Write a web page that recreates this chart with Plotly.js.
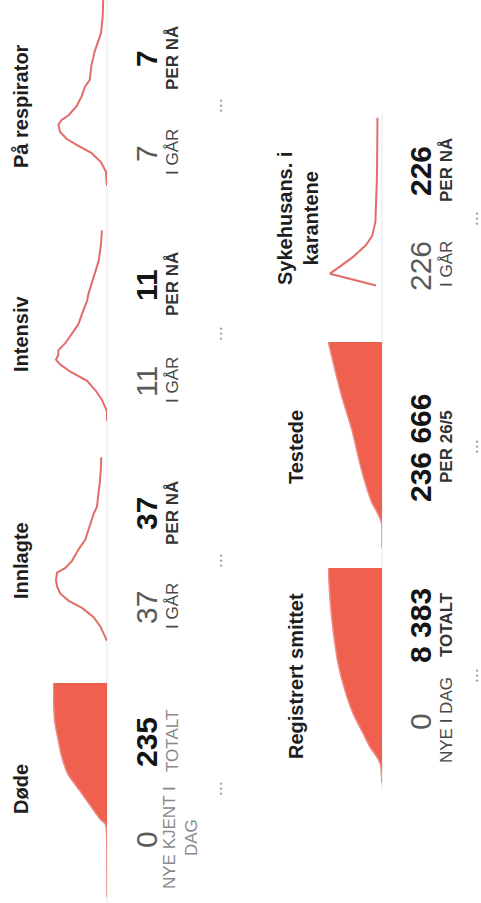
<!DOCTYPE html>
<html><head><meta charset="utf-8">
<script src="https://cdn.plot.ly/plotly-3.0.1.min.js"></script>
<style>
html,body{margin:0;padding:0;background:#fff;overflow:hidden;width:481px;height:903px;}
#wrap{position:absolute;left:0;top:0;width:903px;height:481px;transform-origin:0 0;transform:translate(0px,903px) rotate(-90deg);}
#chart{width:903px;height:481px;}
</style></head><body>
<div id="wrap"><div id="chart"></div></div>
<script>
// ---------- data ----------
const dodeDates = ['2020-02-26','2020-03-24','2020-03-28','2020-03-30','2020-04-03','2020-04-07','2020-04-11','2020-04-18','2020-04-26','2020-05-03','2020-05-11','2020-05-27'];
const dodeValues = [0, 2, 7, 29, 59, 88, 117, 169, 198, 213, 228, 235];

const innlagteDates = ['2020-03-09','2020-03-15','2020-03-19','2020-03-23','2020-03-26','2020-03-29','2020-04-01','2020-04-04','2020-04-07','2020-04-09','2020-04-12','2020-04-17','2020-04-21','2020-04-25','2020-04-28','2020-05-02','2020-05-05','2020-05-11','2020-05-16','2020-05-22','2020-05-26'];
const innlagteValues = [0, 42, 85, 159, 244, 297, 318, 325, 318, 265, 223, 180, 138, 117, 106, 85, 64, 53, 45, 38, 37];

const intensivDates = ['2020-03-06','2020-03-10','2020-03-15','2020-03-19','2020-03-23','2020-03-25','2020-03-27','2020-03-30','2020-04-01','2020-04-03','2020-04-05','2020-04-08','2020-04-12','2020-04-16','2020-04-22','2020-04-26','2020-04-29','2020-05-06','2020-05-13','2020-05-20','2020-05-26'];
const intensivValues = [0, 0, 11, 25, 43, 61, 80, 101, 110, 105, 105, 90, 76, 62, 51, 43, 40, 29, 18, 13, 11];

const respiratorDates = ['2020-03-09','2020-03-15','2020-03-19','2020-03-23','2020-03-26','2020-03-29','2020-04-01','2020-04-04','2020-04-06','2020-04-08','2020-04-12','2020-04-16','2020-04-20','2020-04-23','2020-04-29','2020-05-05','2020-05-09','2020-05-13','2020-05-20','2020-05-27'];
const respiratorValues = [0, 2, 11, 29, 53, 75, 87, 90, 84, 71, 56, 47, 41, 32, 29, 23, 17, 11, 8, 7];

const smittetDates = ['2020-02-26','2020-03-05','2020-03-08','2020-03-12','2020-03-19','2020-03-26','2020-04-05','2020-04-16','2020-04-30','2020-05-14','2020-05-27'];
const smittetValues = [0, 262, 786, 1834, 3144, 4453, 5763, 6811, 7597, 8121, 8383];

const testedeDates = ['2020-03-01','2020-03-11','2020-03-13','2020-03-16','2020-03-20','2020-03-26','2020-04-05','2020-04-20','2020-05-04','2020-05-18','2020-05-27'];
const testedeValues = [200, 1000, 7400, 22190, 44375, 66560, 96150, 133125, 177500, 214480, 236666];

const karanteneDates = ['2020-03-15','2020-03-20','2020-03-23','2020-03-27','2020-04-01','2020-04-05','2020-04-11','2020-04-20','2020-04-28','2020-05-05','2020-05-13','2020-05-25'];
const karanteneValues = [300, 2600, 2110, 1460, 810, 490, 330, 280, 260, 245, 235, 226];

const titles = ['Døde','Innlagte','Intensiv','På respirator','Registrert smittet','Testede','Sykehusans. i<br>karantene'];
const leftValues = ['0','37','11','7','0','','226'];
const leftLabels = ['NYE KJENT I<br>DAG','I GÅR','I GÅR','I GÅR','NYE I DAG','','I GÅR'];
const rightValues = ['235','37','11','7','8 383','236 666','226'];
const rightLabels = ['TOTALT','PER NÅ','PER NÅ','PER NÅ','TOTALT','PER 26/5','PER NÅ'];

// ---------- layout helpers ----------
const W = 903, H = 481;
const FONT = 'Liberation Sans, Arial, sans-serif';
const NARROW = 'Liberation Sans Narrow, Arial Narrow, Liberation Sans, sans-serif';
const AREA = '#f0604f', AREA_LINE = '#ef8a84', LINE = '#e26c68';
const START = '2020-02-26', END = '2020-05-27';

// panel geometry (u = horizontal, v = vertical, in px of the unrotated canvas)
const panels = [
  {u0:6,   u1:220, v0:53,  v1:107, c:114, row:0, lv:63,  rv:161},
  {u0:234, u1:448, v0:53,  v1:107, c:342, row:0, lv:295, rv:389},
  {u0:461, u1:675, v0:53,  v1:107, c:569, row:0, lv:521, rv:618},
  {u0:689, u1:903, v0:53,  v1:107, c:797, row:0, lv:749, rv:844},
  {u0:120, u1:335, v0:328, v1:382, c:227, row:1, lv:181, rv:277},
  {u0:346, u1:561, v0:328, v1:382, c:456, row:1, lv:0,   rv:455},
  {u0:575, u1:790, v0:328, v1:382, c:684, row:1, lv:637, rv:732}
];
const rowV = [
  {title:21, value:146, label:172, dots:220},
  {title:296, value:420, label:446, dots:476}
];
const yMax = [235, 344, 116.5, 100, 8430, 238000, 2700];

const series = [
  {x:dodeDates, y:dodeValues, area:true},
  {x:innlagteDates, y:innlagteValues, area:false},
  {x:intensivDates, y:intensivValues, area:false},
  {x:respiratorDates, y:respiratorValues, area:false},
  {x:smittetDates, y:smittetValues, area:true},
  {x:testedeDates, y:testedeValues, area:true},
  {x:karanteneDates, y:karanteneValues, area:false}
];

const data = [];
const layout = {
  width: W, height: H, margin:{l:0,r:0,t:0,b:0},
  paper_bgcolor:'#fff', plot_bgcolor:'rgba(0,0,0,0)',
  showlegend:false, annotations:[], shapes:[]
};

series.forEach((s, i) => {
  const n = i === 0 ? '' : String(i + 1);
  const p = panels[i];
  const tr = {x:s.x, y:s.y, type:'scatter', mode:'lines', xaxis:'x'+n, yaxis:'y'+n, hoverinfo:'skip'};
  if (s.area) {
    tr.fill = 'tozeroy'; tr.fillcolor = AREA;
    tr.line = {color:AREA_LINE, width:1.5, shape:'spline', smoothing:0.6};
  } else {
    tr.line = {color:LINE, width:2};
  }
  data.push(tr);
  layout['xaxis'+n] = {domain:[p.u0/W, p.u1/W], range:[START, END], type:'date', visible:false, fixedrange:true, anchor:'y'+n};
  layout['yaxis'+n] = {domain:[1-p.v1/H, 1-p.v0/H], range:[0, yMax[i]], visible:false, fixedrange:true, anchor:'x'+n};
});

function ann(text, u, v, size, color, weight, family) {
  return {text:text, x:u/W, y:1-v/H, xref:'paper', yref:'paper', xanchor:'center', yanchor:'middle',
          showarrow:false, font:{family:family||FONT, size:size, color:color, weight:weight||'normal'}};
}

panels.forEach((p, i) => {
  const r = rowV[p.row];
  layout.annotations.push(ann(titles[i], p.c, i === 6 ? r.title + 2 : r.title, 20, '#1e1e1e', 'bold'));
  if (leftValues[i]) {
    layout.annotations.push(ann(leftValues[i], p.lv, r.value, 30, '#5a5a5a', 'normal'));
    const two = leftLabels[i].indexOf('<br>') >= 0;
    const a = ann(leftLabels[i], p.lv + 2, two ? r.label + 8 : r.label, 17, i === 0 ? '#8a8a8a' : '#4a4a4a', 'normal', NARROW);
    if (two) a.font.lineposition = 'none';
    layout.annotations.push(a);
  }
  layout.annotations.push(ann(rightValues[i], p.rv, r.value, 30, '#151515', 'bold'));
  layout.annotations.push(ann(rightLabels[i], p.rv + 1, r.label, 17, i === 0 ? '#8a8a8a' : '#333', i === 0 ? 'normal' : 'bold', NARROW));
  layout.annotations.push(ann('• • •', p.c, r.dots, 8, '#9a9a9a', 'normal'));
});

// faint baselines under the charts
layout.shapes.push({type:'line', xref:'paper', yref:'paper', x0:0, x1:1, y0:1-107/H, y1:1-107/H, line:{color:'#e8e8e8', width:1}, layer:'below'});
layout.shapes.push({type:'line', xref:'paper', yref:'paper', x0:113/W, x1:790/W, y0:1-382/H, y1:1-382/H, line:{color:'#e8e8e8', width:1}, layer:'below'});

Plotly.newPlot('chart', data, layout, {staticPlot:true, displayModeBar:false});
</script></body></html>
